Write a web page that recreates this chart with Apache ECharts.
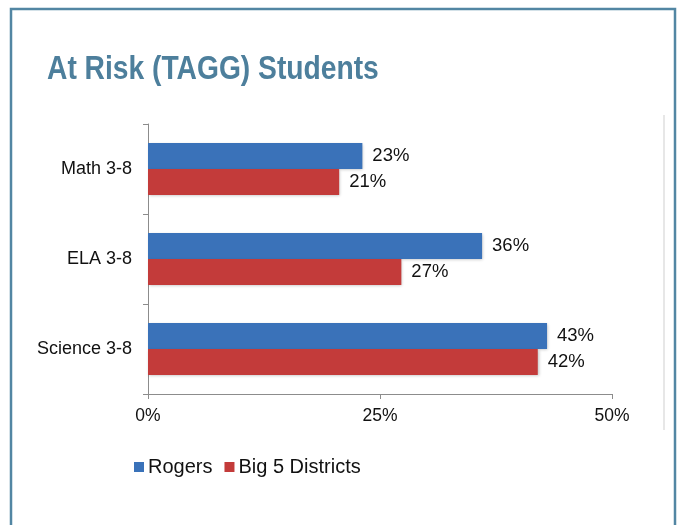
<!DOCTYPE html>
<html><head><meta charset="utf-8">
<script src="https://cdn.jsdelivr.net/npm/echarts@6/dist/echarts.min.js"></script>
<style>html,body{margin:0;padding:0;background:#fff}#c{width:678px;height:525px}</style>
</head><body><div id="c"></div>
<script>
const categories = ['Math 3-8', 'ELA 3-8', 'Science 3-8'];
const rogers = [23.1, 36, 43];
const big5 = [20.6, 27.3, 42];
const xTicks = [0, 25, 50];
const seriesNames = ['Rogers', 'Big 5 Districts'];
const titleText = 'At Risk (TAGG) Students';

const chart = echarts.init(document.getElementById('c'), null, {renderer: 'canvas'});
const labelStyle = {show: true, position: 'right', distance: 10, formatter: p => Math.round(p.value) + '%', color: '#111', fontSize: 18.5, fontFamily: 'Liberation Sans, Arial, sans-serif'};
chart.setOption({
  animation: false,
  backgroundColor: '#fff',
  graphic: [
    {type: 'rect', shape: {x: 11, y: 9, width: 664, height: 530}, style: {fill: 'none', stroke: '#5286a3', lineWidth: 2.5}},
    {type: 'line', shape: {x1: 664, y1: 115, x2: 664, y2: 430}, style: {stroke: '#cfcfcf', lineWidth: 1}},
    {type: 'text', x: 47, y: 70, scaleX: 0.855,
     style: {text: titleText, fill: '#4d7f9c', font: 'bold 33px "Liberation Sans", Arial, sans-serif', textAlign: 'left', textVerticalAlign: 'middle', verticalAlign: 'middle'}}
  ],
  legend: {
    left: 129, top: 452, itemWidth: 10, itemHeight: 10, itemGap: 12, icon: 'rect',
    textStyle: {fontSize: 20, color: '#111', padding: [0, 0, 0, -1], fontFamily: 'Liberation Sans, Arial, sans-serif'}
  },
  grid: {left: 148, right: 66, top: 124, bottom: 131, containLabel: false},
  xAxis: {
    type: 'value', min: 0, max: 50, interval: 25,
    axisLine: {show: true, lineStyle: {color: '#8c8c8c', width: 1}},
    axisTick: {show: true, length: 5, lineStyle: {color: '#8c8c8c'}},
    splitLine: {show: false},
    axisLabel: {formatter: v => xTicks.includes(v) ? v + '%' : '', color: '#111', fontSize: 17.5, margin: 13, fontFamily: 'Liberation Sans, Arial, sans-serif'}
  },
  yAxis: {
    type: 'category', data: categories, inverse: true,
    axisLine: {show: true, lineStyle: {color: '#8c8c8c', width: 1}},
    axisTick: {show: true, length: 5, lineStyle: {color: '#8c8c8c'}},
    axisLabel: {color: '#111', fontSize: 18, margin: 16, fontFamily: 'Liberation Sans, Arial, sans-serif'}
  },
  series: [
    {name: seriesNames[0], type: 'bar', data: rogers, barGap: '0%', barCategoryGap: '42%',
     itemStyle: {color: '#3a72b9', shadowColor: 'rgba(0,0,0,0.25)', shadowBlur: 3, shadowOffsetX: 1, shadowOffsetY: 1},
     label: labelStyle},
    {name: seriesNames[1], type: 'bar', data: big5, barGap: '0%', barCategoryGap: '42%',
     itemStyle: {color: '#c33b3a', shadowColor: 'rgba(0,0,0,0.25)', shadowBlur: 3, shadowOffsetX: 1, shadowOffsetY: 1},
     label: labelStyle}
  ]
});
</script></body></html>
